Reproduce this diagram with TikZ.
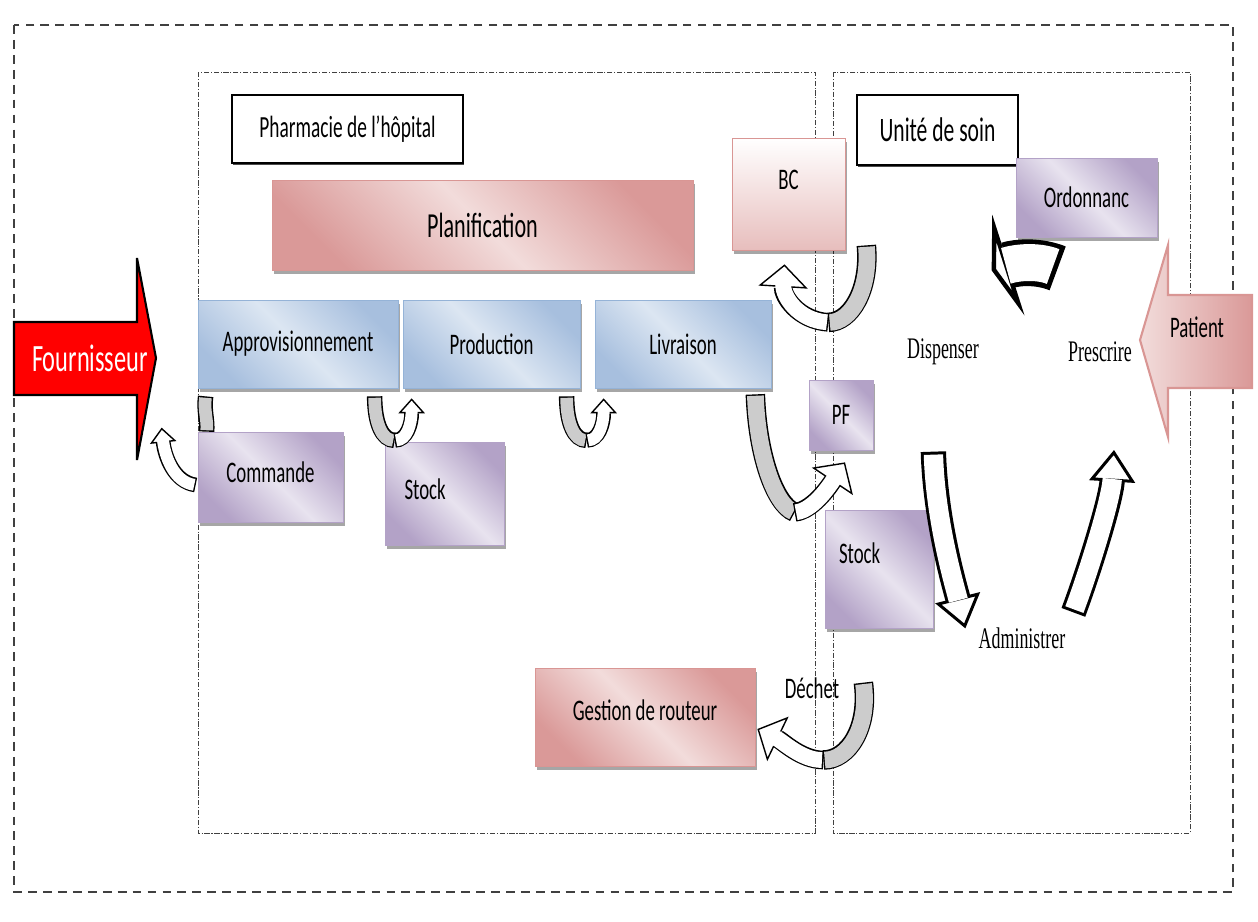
\documentclass[tikz,border=0pt]{standalone}
\usepackage{fontspec}
\setmainfont{Carlito}[FakeStretch=0.63]
\newfontfamily\actfont{Liberation Serif}[FakeStretch=0.6]
\usetikzlibrary{arrows.meta,calc,shadows}

\definecolor{blueA}{HTML}{DCE6F2}
\definecolor{blueB}{HTML}{A7BFDE}
\definecolor{blueline}{HTML}{95B3D7}
\definecolor{lilaA}{HTML}{E8E3EF}
\definecolor{lilaB}{HTML}{B3A2C7}
\definecolor{roseA}{HTML}{F2DCDB}
\definecolor{roseB}{HTML}{DA9998}
\definecolor{roseline}{HTML}{D99694}

\tikzset{
  area/.style 2 args={minimum width=#1*0.02cm, minimum height=#2*0.02cm},
  box/.style={inner sep=0pt, font=\fontsize{17}{19}\selectfont,
    drop shadow={shadow xshift=1.2pt, shadow yshift=-2.5pt, fill=black, opacity=0.35}},
  bluebox/.style={box, draw=blueline, left color=blueB, right color=blueB, middle color=blueA, shading angle=135},
  lilabox/.style={box, draw=lilaB, left color=lilaB, right color=lilaB, middle color=lilaA, shading angle=135},
  rosebox/.style={box, draw=roseline, left color=roseB, right color=roseB, middle color=roseA, shading angle=135},
  labelbox/.style={draw=black, line width=1pt, fill=white, inner sep=0pt,
    drop shadow={shadow xshift=0.8pt, shadow yshift=-1.2pt, fill=black!70, opacity=1}},
  act/.style={font=\actfont\fontsize{17}{19}\selectfont},
  outer frame/.style={dash pattern=on 5pt off 3.5pt, line width=0.9pt, black!75},
  zone/.style={dash pattern=on 3pt off 1pt on 0.6pt off 1pt, line width=0.5pt, black!75},
  bendarrow/.style n args={4}{line width=#1, white, shorten >=#3-1.5pt, shorten <=#4,
    preaction={draw=black, line width=#1+2*#4, shorten >=0pt, shorten <=0pt,
      -{Triangle[length=#3, width=#2, fill=white, color=black, line width=#4]}}},
  greybody/.style 2 args={line width=#1, gray!40, shorten >=#2, shorten <=#2,
    preaction={draw=black, line width=#1+2*#2, shorten >=0pt, shorten <=0pt}},
  small arrow/.style={bendarrow={6.8pt}{15pt}{8.5pt}{0.8pt}},
  small body/.style={greybody={7.2pt}{0.8pt}},
  wide arrow/.style={bendarrow={9pt}{28pt}{13pt}{0.8pt}},
  wide body/.style={greybody={9.5pt}{0.8pt}},
  cycle arrow/.style={bendarrow={11pt}{26pt}{18pt}{1.7pt}},
  ordo arrow/.style={bendarrow={21pt}{60pt}{10pt}{2.8pt}},
}

\begin{document}
\begin{tikzpicture}[x=0.02cm, y=-0.02cm]
  \useasboundingbox (0,0) rectangle (1258,921);
  \draw[outer frame] (14,25) rectangle (1233,892);
  \draw[zone] (198,72) rectangle (815,833);
  \draw[zone] (833,72) rectangle (1190,833);

  \node[labelbox, area={231}{68}, font=\fontsize{17.5}{19}\selectfont] (pharma) at (347.5,129) {Pharmacie de l’hôpital};
  \node[labelbox, area={161}{70}, font=\fontsize{19.5}{21}\selectfont] (unite) at (937.5,130) {Unité de soin};
  \node[rosebox, area={421}{90}, font=\fontsize{20}{22}\selectfont] (plan) at (482.5,225) {Planification};
  \node[bluebox, area={200}{88}] (appro) at (298,344) {Approvisionnement};
  \node[bluebox, area={177}{88}] (prod) at (491.5,344) {Production};
  \node[bluebox, area={176}{88}] (livr) at (683,344) {Livraison};
  \node[lilabox, area={145}{90}, text depth=5pt] (cmd) at (270.5,477) {Commande};
  \node[lilabox, area={119}{103}, text width=80*0.02cm, align=left, text depth=5pt] (stockA) at (444.5,493.5) {Stock};
  \node[rosebox, top color=white, bottom color=roseA!55!roseB, area={113}{112}, text depth=16pt] (bc) at (788.5,194) {BC};
  \node[lilabox, area={64}{70}] (pf) at (841,415) {PF};
  \node[lilabox, area={108}{118}, text width=80*0.02cm, align=left, text depth=18pt] (stockB) at (879,569) {Stock};
  \node[lilabox, area={141}{79}] (ordo) at (1086.5,197.5) {Ordonnanc};
  \node[rosebox, area={220}{98}, text depth=8pt] (gest) at (645,717) {Gestion de routeur};

  \draw[line width=1.2pt, fill=red] (14,322) -- (137,322) -- (137,258) -- (156,358)
    -- (137,460) -- (137,395) -- (14,395) -- cycle;
  \node[white, font=\fontsize{22}{24}\selectfont] (fourn) at (90,358) {Fournisseur};
  \draw[draw=roseline, line width=1.2pt, left color=roseA, right color=roseB] (1252,295) -- (1168,295)
    -- (1168,245) -- (1140,340) -- (1168,437) -- (1168,388) -- (1252,388) -- cycle;
  \node[font=\fontsize{17}{19}\selectfont] (patient) at (1197,327) {Patient};

  \node[font=\fontsize{17}{19}\selectfont] (dechet) at (812,688) {Déchet};
  \node[act] (disp) at (943,352) {Dispenser};
  \node[act] (presc) at (1100,352) {Prescrire};
  \node[act] (admin) at (1022,638) {Administrer};

  \draw[small body] ($(appro.south west)+(8,8)$) .. controls +(-2,14) and +(1,-12) .. ($(cmd.north west)+(9,0)$);
  \draw[small arrow] ($(cmd.west)+(-2,8)$) .. controls +(-22,-3) and +(3,28) .. ($(cmd.north west)+(-36,-4)$);
  \foreach \b in {prod,livr}{
    \draw[small body] ($(\b.south west)+(-28,8)$) .. controls +(0,28) and +(-12,0) .. ($(\b.south west)+(-8,52)$);
    \draw[small arrow] ($(\b.south west)+(-8,52)$) .. controls +(12,0) and +(0,26) .. ($(\b.south west)+(9,10)$);
  }
  \draw[wide body] ($(livr.south east)+(-16,6)$) .. controls +(2,60) and +(-20,-8) .. ($(pf.south west)+(-14,62)$);
  \draw[wide arrow] ($(pf.south west)+(-14,62)$) .. controls +(20,-2) and +(-12,18) .. ($(pf.south)+(4,12)$);
  \draw[wide body] ($(bc.south east)+(21,-5)$) .. controls +(4,45) and +(22,0) .. ($(bc.south east)+(-17,72)$);
  \draw[wide arrow] ($(bc.south east)+(-17,72)$) .. controls +(-30,-2) and +(-2,32) .. ($(bc.south)+(-4,14)$);
  \draw[wide body] ($(gest.north east)+(108,15)$) .. controls +(6,45) and +(25,0) .. ($(gest.east)+(68,43)$);
  \draw[wide arrow] ($(gest.east)+(68,43)$) .. controls +(-22,0) and +(25,12) .. ($(gest.east)+(2,12)$);
  \draw[ordo arrow] ($(ordo.south west)+(42,31)$) .. controls +(-20,-8) and +(25,-8) .. ($(ordo.south west)+(-24,33)$);
  \draw[cycle arrow] ($(stockB.north east)+(0,-58)$) .. controls +(2,70) and +(-10,-40) .. ($(stockB.south east)+(32,0)$);
  \draw[cycle arrow] ($(stockB.south east)+(140,-16)$) .. controls +(15,-40) and +(-3,50) .. ($(presc)+(14,98)$);
\end{tikzpicture}
\end{document}
